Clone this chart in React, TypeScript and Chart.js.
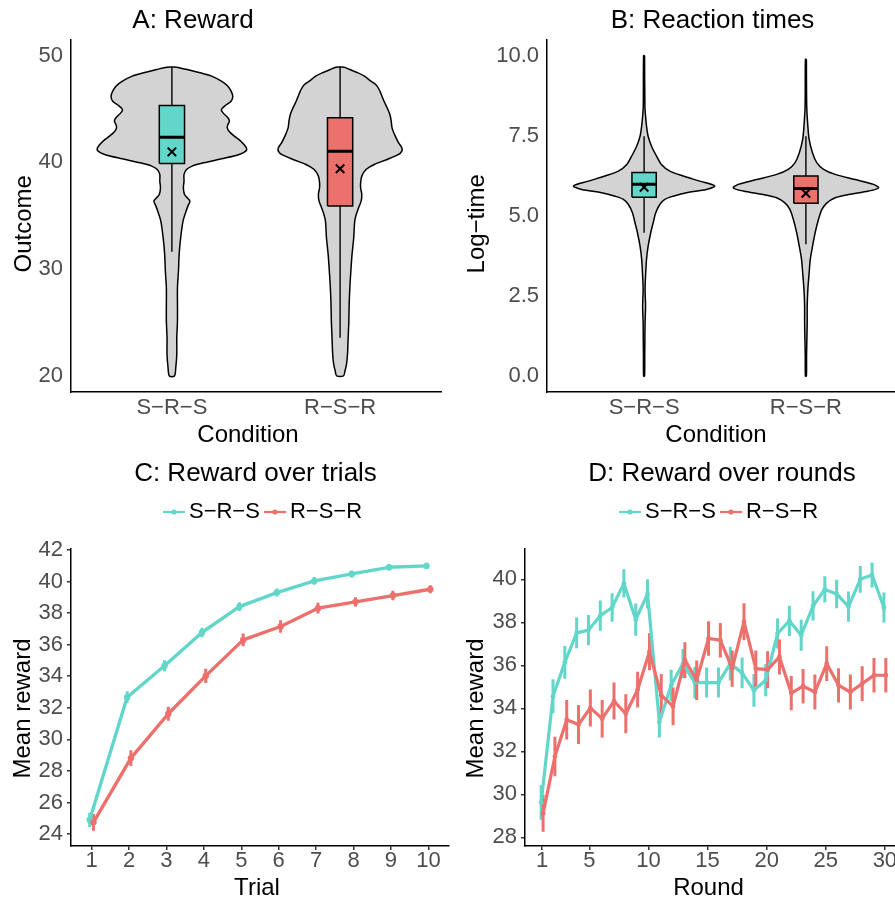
import React, { useEffect, useRef } from 'react';
import { Chart, registerables } from 'chart.js';

Chart.register(...registerables);

const FONT = '"Liberation Sans", Arial, Helvetica, sans-serif';
Chart.defaults.font.family = FONT;

const TICK_COLOR = '#4d4d4d';
const CYAN = '#61d6c9';
const RED = '#ec706c';
const VIOLIN_FILL = '#d3d3d3';
const INK = '#000000';

const CONDITIONS = ['S\u2212R\u2212S', 'R\u2212S\u2212R'];
const CONDITION_X = [1, 2];
const CONDITION_COLORS = [CYAN, RED];
const BOX_HALF = 0.075;

// ---------- Panel A: Reward (violin + box) ----------
const A_Y_TICKS = [20, 30, 40, 50];
const A_SRS_LEVELS = [48.91, 48.69, 48.38, 48.07, 47.6, 47.13, 46.66, 46.19, 45.72, 45.26, 44.94, 44.63, 44.17, 43.85, 43.54, 43.23, 42.86, 42.45, 41.98, 41.36, 41.05, 40.74, 40.36, 39.96, 39.65, 39.33, 38.87, 38.24, 37.62, 36.99, 36.68, 36.37, 35.9, 35.28, 34.5, 32.94, 31.38, 29.83, 28.27, 26.71, 25.15, 23.59, 22.03, 20.78, 20.0];
const A_SRS_HALFWIDTH = [0.029, 0.091, 0.168, 0.236, 0.294, 0.333, 0.352, 0.362, 0.352, 0.313, 0.294, 0.304, 0.333, 0.342, 0.333, 0.329, 0.342, 0.371, 0.41, 0.443, 0.439, 0.4, 0.304, 0.188, 0.12, 0.087, 0.072, 0.072, 0.068, 0.075, 0.091, 0.107, 0.095, 0.081, 0.066, 0.052, 0.043, 0.039, 0.033, 0.033, 0.033, 0.029, 0.029, 0.023, 0.015];
const A_RSR_LEVELS = [48.91, 48.69, 48.38, 48.07, 47.6, 47.29, 46.82, 46.35, 45.72, 45.1, 44.48, 43.85, 43.23, 42.45, 41.83, 41.36, 41.05, 40.74, 40.27, 39.8, 39.33, 38.71, 38.08, 37.62, 36.99, 36.37, 35.74, 35.12, 34.5, 32.94, 31.38, 29.83, 28.27, 26.71, 25.15, 23.59, 22.03, 21.09, 20.47, 20.0];
const A_RSR_HALFWIDTH = [0.025, 0.058, 0.106, 0.145, 0.183, 0.212, 0.232, 0.245, 0.261, 0.28, 0.296, 0.304, 0.309, 0.328, 0.348, 0.367, 0.367, 0.348, 0.28, 0.203, 0.154, 0.129, 0.122, 0.122, 0.129, 0.125, 0.11, 0.096, 0.087, 0.081, 0.071, 0.064, 0.058, 0.054, 0.052, 0.048, 0.044, 0.038, 0.029, 0.02];
const A_Q1 = [39.88, 35.91];
const A_MEDIAN = [42.36, 41.05];
const A_Q3 = [45.32, 44.17];
const A_WHISKER_LOW = [31.63, 23.59];
const A_WHISKER_HIGH = [48.9, 48.9];
const A_MEAN = [40.98, 39.4];

// ---------- Panel B: Reaction times ----------
const B_Y_TICKS = [0, 2.5, 5, 7.5, 10];
const B_Y_TICK_LABELS = ['0.0', '2.5', '5.0', '7.5', '10.0'];
const B_SRS_LEVELS = [10.0, 8.42, 8.11, 7.8, 7.48, 7.17, 6.86, 6.6, 6.39, 6.24, 6.08, 5.93, 5.82, 5.72, 5.61, 5.51, 5.35, 5.09, 4.78, 4.47, 4.05, 3.64, 3.22, 2.7, 2.18, 1.66, 1.14, 0.62, 0.0];
const B_SRS_HALFWIDTH = [0.003, 0.005, 0.009, 0.015, 0.025, 0.046, 0.077, 0.107, 0.159, 0.241, 0.344, 0.436, 0.385, 0.262, 0.179, 0.128, 0.097, 0.072, 0.056, 0.041, 0.025, 0.015, 0.01, 0.006, 0.009, 0.006, 0.005, 0.004, 0.003];
const B_RSR_LEVELS = [9.88, 8.42, 7.8, 7.38, 6.96, 6.65, 6.45, 6.29, 6.13, 5.98, 5.87, 5.77, 5.66, 5.56, 5.4, 5.2, 4.89, 4.47, 4.05, 3.64, 3.22, 2.7, 2.18, 1.66, 1.14, 0.62, 0.0];
const B_RSR_HALFWIDTH = [0.003, 0.005, 0.012, 0.02, 0.041, 0.068, 0.109, 0.181, 0.304, 0.418, 0.449, 0.387, 0.264, 0.181, 0.13, 0.099, 0.078, 0.057, 0.041, 0.027, 0.02, 0.012, 0.008, 0.008, 0.006, 0.004, 0.003];
const B_Q1 = [5.58, 5.39];
const B_MEDIAN = [5.98, 5.85];
const B_Q3 = [6.35, 6.24];
const B_WHISKER_LOW = [4.47, 4.11];
const B_WHISKER_HIGH = [7.48, 7.48];
const B_MEAN = [5.89, 5.7];

// ---------- Panel C: Reward over trials ----------
const TRIALS = [1, 2, 3, 4, 5, 6, 7, 8, 9, 10];
const C_SRS_MEAN = [24.9, 32.67, 34.66, 36.77, 38.41, 39.3, 40.04, 40.48, 40.9, 40.99];
const C_SRS_SE = [0.45, 0.37, 0.35, 0.3, 0.28, 0.25, 0.24, 0.22, 0.2, 0.2];
const C_RSR_MEAN = [24.74, 28.81, 31.62, 34.02, 36.3, 37.15, 38.31, 38.71, 39.11, 39.51];
const C_RSR_SE = [0.53, 0.5, 0.45, 0.45, 0.4, 0.4, 0.34, 0.3, 0.3, 0.26];
const C_Y_TICKS = [24, 26, 28, 30, 32, 34, 36, 38, 40, 42];

// ---------- Panel D: Reward over rounds ----------
const ROUNDS = [1, 2, 3, 4, 5, 6, 7, 8, 9, 10, 11, 12, 13, 14, 15, 16, 17, 18, 19, 20, 21, 22, 23, 24, 25, 26, 27, 28, 29, 30];
const D_SRS_MEAN = [29.63, 34.56, 36.14, 37.51, 37.64, 38.31, 38.69, 39.81, 38.13, 39.32, 33.36, 35.07, 36.08, 35.2, 35.2, 35.2, 36.08, 35.65, 34.84, 35.31, 37.48, 38.07, 37.4, 38.76, 39.53, 39.32, 38.73, 40.0, 40.2, 38.69];
const D_SRS_SE = [0.81, 0.79, 0.76, 0.72, 0.7, 0.7, 0.66, 0.66, 0.75, 0.68, 0.72, 0.73, 0.68, 0.74, 0.7, 0.7, 0.78, 0.72, 0.76, 0.75, 0.7, 0.7, 0.72, 0.68, 0.61, 0.66, 0.7, 0.62, 0.58, 0.7];
const D_RSR_MEAN = [29.12, 31.76, 33.47, 33.25, 34.02, 33.52, 34.34, 33.75, 34.87, 36.63, 34.61, 34.09, 36.24, 35.31, 37.25, 37.17, 35.85, 38.03, 35.85, 35.8, 36.39, 34.71, 35.03, 34.76, 36.08, 35.07, 34.76, 35.15, 35.54, 35.54];
const D_RSR_SE = [0.86, 0.92, 0.92, 0.91, 0.86, 0.87, 0.86, 0.91, 0.83, 0.86, 0.99, 0.88, 0.83, 0.92, 0.8, 0.8, 0.84, 0.86, 0.84, 0.86, 0.81, 0.8, 0.8, 0.81, 0.81, 0.8, 0.81, 0.81, 0.8, 0.8];
const D_X_TICKS = [1, 5, 10, 15, 20, 25, 30];
const D_Y_TICKS = [28, 30, 32, 34, 36, 38, 40];

// ---------- helpers ----------
const tickFont = { family: FONT, size: 22, lineHeight: 1 };
const axisTitleFont = { family: FONT, size: 24, lineHeight: 1 };
const titleFont = { family: FONT, size: 26, weight: 'normal' as const, lineHeight: 1.2 };

function violinPoints(center: number, levels: number[], widths: number[]) {
  const right = levels.map((y, i) => ({ x: center + widths[i], y }));
  const left = levels.map((y, i) => ({ x: center - widths[i], y })).reverse();
  return [...right, ...left, right[0]];
}

function boxPoints(center: number, lo: number, hi: number) {
  return [
    { x: center - BOX_HALF, y: lo },
    { x: center + BOX_HALF, y: lo },
    { x: center + BOX_HALF, y: hi },
    { x: center - BOX_HALF, y: hi },
    { x: center - BOX_HALF, y: lo },
  ];
}

function errorBarPoints(xs: number[], shift: number, means: number[], ses: number[]) {
  const pts: { x: number; y: number | null }[] = [];
  xs.forEach((x, i) => {
    pts.push({ x: x + shift, y: means[i] - ses[i] });
    pts.push({ x: x + shift, y: means[i] + ses[i] });
    pts.push({ x: x + shift, y: null });
  });
  return pts;
}

function fixedTicks(values: number[]) {
  return (scale: any) => {
    scale.ticks = values.map((value) => ({ value }));
  };
}

// fix a scale's size, and nudge its title the way the reference places it
function fitScale(size: { width?: number; height?: number }, titleDx: number, titleDy: number) {
  return (s: any) => {
    if (size.width !== undefined) s.width = size.width;
    if (size.height !== undefined) s.height = size.height;
    if (!s.__nudged) {
      const orig = s.drawTitle;
      s.drawTitle = function () {
        this.ctx.save();
        this.ctx.translate(titleDx, titleDy);
        orig.call(this);
        this.ctx.restore();
      };
      s.__nudged = true;
    }
  };
}

const padScale = (w: number) => ({
  type: 'linear',
  position: 'right',
  display: true,
  ticks: { display: false },
  grid: { display: false, drawTicks: false },
  border: { display: false },
  title: { display: false },
  afterFit: (s: any) => {
    s.width = w;
  },
});

const legendTweak = (gap: number, dx: number) => ({
  id: 'legendTweak',
  beforeInit(chart: any) {
    const legend = chart.legend;
    if (!legend) return;
    const origFit = legend.fit;
    legend.fit = function () {
      origFit.call(this);
      this.height += gap;
    };
    const origDraw = legend.draw;
    legend.draw = function () {
      this.ctx.save();
      this.ctx.translate(dx, 0);
      origDraw.call(this);
      this.ctx.restore();
    };
  },
});

const iconCache: Record<string, HTMLCanvasElement> = {};
function legendIcon(color: string) {
  if (iconCache[color]) return iconCache[color];
  const c = document.createElement('canvas');
  c.width = 22;
  c.height = 8;
  const g = c.getContext('2d')!;
  g.strokeStyle = color;
  g.lineWidth = 2.2;
  g.beginPath();
  g.moveTo(0, 4);
  g.lineTo(22, 4);
  g.stroke();
  g.fillStyle = color;
  g.beginPath();
  g.arc(11, 4, 2.6, 0, Math.PI * 2);
  g.fill();
  iconCache[color] = c;
  return c;
}

interface ViolinPanel {
  title: string;
  yTitle: string;
  yTitlePad: number;
  yTitleDy: number;
  xTitleDx: number;
  yMin: number;
  yMax: number;
  yTicks: number[];
  yTickLabels: string[];
  yWidth: number;
  rightPad: number;
  levels: number[][];
  widths: number[][];
  q1: number[];
  median: number[];
  q3: number[];
  wLow: number[];
  wHigh: number[];
  mean: number[];
}

function violinConfig(p: ViolinPanel): any {
  const datasets: any[] = [];
  CONDITION_X.forEach((c, i) => {
    datasets.push({
      data: violinPoints(c, p.levels[i], p.widths[i]),
      fill: 'shape',
      backgroundColor: VIOLIN_FILL,
      borderColor: INK,
      borderWidth: 1.5,
      tension: 0.3,
      pointRadius: 0,
      order: 10,
    });
    datasets.push({
      data: [
        { x: c, y: p.wLow[i] },
        { x: c, y: p.wHigh[i] },
      ],
      borderColor: INK,
      borderWidth: 1.4,
      pointRadius: 0,
      fill: false,
      order: 8,
    });
    datasets.push({
      data: boxPoints(c, p.q1[i], p.q3[i]),
      fill: 'shape',
      backgroundColor: CONDITION_COLORS[i],
      borderColor: INK,
      borderWidth: 1.5,
      pointRadius: 0,
      order: 6,
    });
    datasets.push({
      data: [
        { x: c - BOX_HALF, y: p.median[i] },
        { x: c + BOX_HALF, y: p.median[i] },
      ],
      borderColor: INK,
      borderWidth: 3,
      pointRadius: 0,
      fill: false,
      order: 4,
    });
    datasets.push({
      data: [{ x: c, y: p.mean[i] }],
      showLine: false,
      pointStyle: 'crossRot',
      pointRadius: 6,
      pointBorderWidth: 2,
      pointBorderColor: INK,
      pointBackgroundColor: 'rgba(0,0,0,0)',
      order: 2,
    });
  });

  const scales: any = {
    x: {
      type: 'linear',
      min: 0.4,
      max: 2.6,
      afterBuildTicks: fixedTicks(CONDITION_X),
      ticks: {
        callback: (_v: any, i: number) => CONDITIONS[i],
        font: tickFont,
        color: TICK_COLOR,
        padding: 4.5,
        maxRotation: 0,
        autoSkip: false,
      },
      grid: { display: false, drawTicks: false },
      border: { display: true, color: INK, width: 1.5 },
      title: { display: true, text: 'Condition', font: axisTitleFont, color: INK, padding: { top: 0, bottom: 3 } },
      afterFit: fitScale({ height: 58 }, p.xTitleDx, 0),
    },
    y: {
      type: 'linear',
      min: p.yMin,
      max: p.yMax,
      afterBuildTicks: fixedTicks(p.yTicks),
      ticks: {
        callback: (_v: any, i: number) => p.yTickLabels[i],
        font: tickFont,
        color: TICK_COLOR,
        padding: 8,
        autoSkip: false,
      },
      grid: { display: false, drawTicks: false },
      border: { display: true, color: INK, width: 1.5 },
      title: { display: true, text: p.yTitle, font: axisTitleFont, color: INK, padding: { top: p.yTitlePad, bottom: 0 } },
      afterFit: fitScale({ width: p.yWidth }, 0, p.yTitleDy),
    },
  };
  if (p.rightPad > 0) scales.yPad = padScale(p.rightPad);

  return {
    type: 'line',
    data: { datasets },
    options: {
      animation: false,
      responsive: false,
      events: [],
      layout: { padding: 0 },
      plugins: {
        legend: { display: false },
        tooltip: { enabled: false },
        title: {
          display: true,
          text: p.title,
          font: titleFont,
          color: INK,
          padding: { top: 5.4, bottom: 2.9 },
        },
      },
      scales,
    },
  };
}

interface LinePanel {
  title: string;
  xTitle: string;
  xTitleDx: number;
  yTitleDy: number;
  legendDx: number;
  xs: number[];
  dodge: number;
  xMin: number;
  xMax: number;
  xTicks: number[];
  yMin: number;
  yMax: number;
  yTicks: number[];
  yWidth: number;
  yTitlePad: number;
  rightPad: number;
  srsMean: number[];
  srsSe: number[];
  rsrMean: number[];
  rsrSe: number[];
  pointRadius: number;
  lineWidth: number;
  legendFull: boolean;
}

function lineConfig(p: LinePanel): any {
  const series = [
    { mean: p.srsMean, se: p.srsSe, shift: -p.dodge, color: CYAN },
    { mean: p.rsrMean, se: p.rsrSe, shift: p.dodge, color: RED },
  ];
  const datasets: any[] = [];
  series.forEach((s, i) => {
    datasets.push({
      label: CONDITIONS[i],
      data: p.xs.map((x, k) => ({ x: x + s.shift, y: s.mean[k] })),
      borderColor: s.color,
      backgroundColor: s.color,
      borderWidth: p.lineWidth,
      borderJoinStyle: 'round',
      pointRadius: p.pointRadius,
      pointBorderWidth: 0,
      pointBackgroundColor: s.color,
      fill: false,
      tension: 0,
      order: 2 - i,
    });
  });
  series.forEach((s, i) => {
    datasets.push({
      label: CONDITIONS[i] + ' SE',
      data: errorBarPoints(p.xs, s.shift, s.mean, s.se),
      borderColor: s.color,
      borderWidth: 3,
      pointRadius: 0,
      spanGaps: false,
      fill: false,
      order: 4 - i,
    });
  });

  const axisCommon = {
    type: 'linear',
    grid: {
      display: true,
      drawOnChartArea: false,
      drawTicks: true,
      tickLength: 4,
      color: '#333333',
      lineWidth: 1.5,
    },
    border: { display: true, color: INK, width: 1.5 },
  };

  return {
    type: 'line',
    data: { datasets },
    plugins: [legendTweak(16, p.legendDx)],
    options: {
      animation: false,
      responsive: false,
      events: [],
      layout: { padding: 0 },
      plugins: {
        tooltip: { enabled: false },
        title: {
          display: true,
          text: p.title,
          font: titleFont,
          color: INK,
          padding: { top: 8.4, bottom: 0.4 },
        },
        legend: {
          display: true,
          position: 'top',
          fullSize: p.legendFull,
          labels: {
            usePointStyle: true,
            pointStyleWidth: 8,
            padding: 11,
            color: INK,
            font: { family: FONT, size: 22 },
            generateLabels: () =>
              CONDITIONS.map((name, i) => ({
                text: name,
                fillStyle: CONDITION_COLORS[i],
                strokeStyle: CONDITION_COLORS[i],
                fontColor: INK,
                lineWidth: 0,
                pointStyle: legendIcon(CONDITION_COLORS[i]),
                hidden: false,
                datasetIndex: i,
              })),
          },
        },
      },
      scales: {
        x: {
          ...axisCommon,
          min: p.xMin,
          max: p.xMax,
          afterBuildTicks: fixedTicks(p.xTicks),
          ticks: { font: tickFont, color: TICK_COLOR, padding: 0, maxRotation: 0, autoSkip: false, callback: (v: any) => String(v) },
          title: { display: true, text: p.xTitle, font: axisTitleFont, color: INK, padding: { top: 0, bottom: 0 } },
          afterFit: fitScale({ height: 54 }, p.xTitleDx, 0),
        },
        y: {
          ...axisCommon,
          min: p.yMin,
          max: p.yMax,
          afterBuildTicks: fixedTicks(p.yTicks),
          ticks: { font: tickFont, color: TICK_COLOR, padding: 4, autoSkip: false, callback: (v: any) => String(v) },
          title: { display: true, text: 'Mean reward', font: axisTitleFont, color: INK, padding: { top: p.yTitlePad, bottom: 0 } },
          afterFit: fitScale({ width: p.yWidth }, 0, p.yTitleDy),
        },
        yPad: padScale(p.rightPad),
      },
    },
  };
}

const makeA = () =>
  violinConfig({
    title: 'A: Reward',
    yTitle: 'Outcome',
    yTitlePad: 75,
    yTitleDy: 8,
    xTitleDx: -8,
    yMin: 18.5,
    yMax: 51.5,
    yTicks: A_Y_TICKS,
    yTickLabels: A_Y_TICKS.map(String),
    yWidth: 134,
    rightPad: 0,
    levels: [A_SRS_LEVELS, A_RSR_LEVELS],
    widths: [A_SRS_HALFWIDTH, A_RSR_HALFWIDTH],
    q1: A_Q1,
    median: A_MEDIAN,
    q3: A_Q3,
    wLow: A_WHISKER_LOW,
    wHigh: A_WHISKER_HIGH,
    mean: A_MEAN,
  });

const makeB = () =>
  violinConfig({
    title: 'B: Reaction times',
    yTitle: 'Log\u2212time',
    yTitlePad: 5,
    yTitleDy: 8,
    xTitleDx: -9,
    yMin: -0.5,
    yMax: 10.5,
    yTicks: B_Y_TICKS,
    yTickLabels: B_Y_TICK_LABELS,
    yWidth: 87,
    rightPad: 62,
    levels: [B_SRS_LEVELS, B_RSR_LEVELS],
    widths: [B_SRS_HALFWIDTH, B_RSR_HALFWIDTH],
    q1: B_Q1,
    median: B_MEDIAN,
    q3: B_Q3,
    wLow: B_WHISKER_LOW,
    wHigh: B_WHISKER_HIGH,
    mean: B_MEAN,
  });

const makeC = () =>
  lineConfig({
    title: 'C: Reward over trials',
    xTitle: 'Trial',
    xTitleDx: -3,
    yTitleDy: 11,
    legendDx: 6,
    xs: TRIALS,
    dodge: 0.05,
    xMin: 0.45,
    xMax: 10.55,
    xTicks: TRIALS,
    yMin: 23.24,
    yMax: 42.06,
    yTicks: C_Y_TICKS,
    yWidth: 71,
    yTitlePad: 11,
    rightPad: 62,
    srsMean: C_SRS_MEAN,
    srsSe: C_SRS_SE,
    rsrMean: C_RSR_MEAN,
    rsrSe: C_RSR_SE,
    pointRadius: 3.2,
    lineWidth: 3.4,
    legendFull: false,
  });

const makeD = () =>
  lineConfig({
    title: 'D: Reward over rounds',
    xTitle: 'Round',
    xTitleDx: -5,
    yTitleDy: 11,
    legendDx: 0,
    xs: ROUNDS,
    dodge: 0.08,
    xMin: -0.45,
    xMax: 31.45,
    xTicks: D_X_TICKS,
    yMin: 27.6,
    yMax: 41.41,
    yTicks: D_Y_TICKS,
    yWidth: 63,
    yTitlePad: 2.7,
    rightPad: 80,
    srsMean: D_SRS_MEAN,
    srsSe: D_SRS_SE,
    rsrMean: D_RSR_MEAN,
    rsrSe: D_RSR_SE,
    pointRadius: 2.4,
    lineWidth: 3.2,
    legendFull: true,
  });

function ChartCanvas(props: { left: number; top: number; width: number; height: number; make: () => any }) {
  const ref = useRef<HTMLCanvasElement>(null);
  useEffect(() => {
    if (!ref.current) return;
    const chart = new Chart(ref.current, props.make());
    return () => chart.destroy();
  }, []);
  return (
    <canvas
      ref={ref}
      width={props.width}
      height={props.height}
      style={{ position: 'absolute', left: props.left, top: props.top, width: props.width, height: props.height }}
    />
  );
}

export default function App() {
  return (
    <div
      style={{
        position: 'absolute',
        left: 0,
        top: 0,
        width: 895,
        height: 900,
        overflow: 'hidden',
        background: '#ffffff',
      }}
    >
      <ChartCanvas left={-63} top={0} width={512} height={450} make={makeA} />
      <ChartCanvas left={460} top={0} width={505} height={450} make={makeB} />
      <ChartCanvas left={0} top={450} width={511} height={450} make={makeC} />
      <ChartCanvas left={462} top={450} width={520} height={450} make={makeD} />
    </div>
  );
}
